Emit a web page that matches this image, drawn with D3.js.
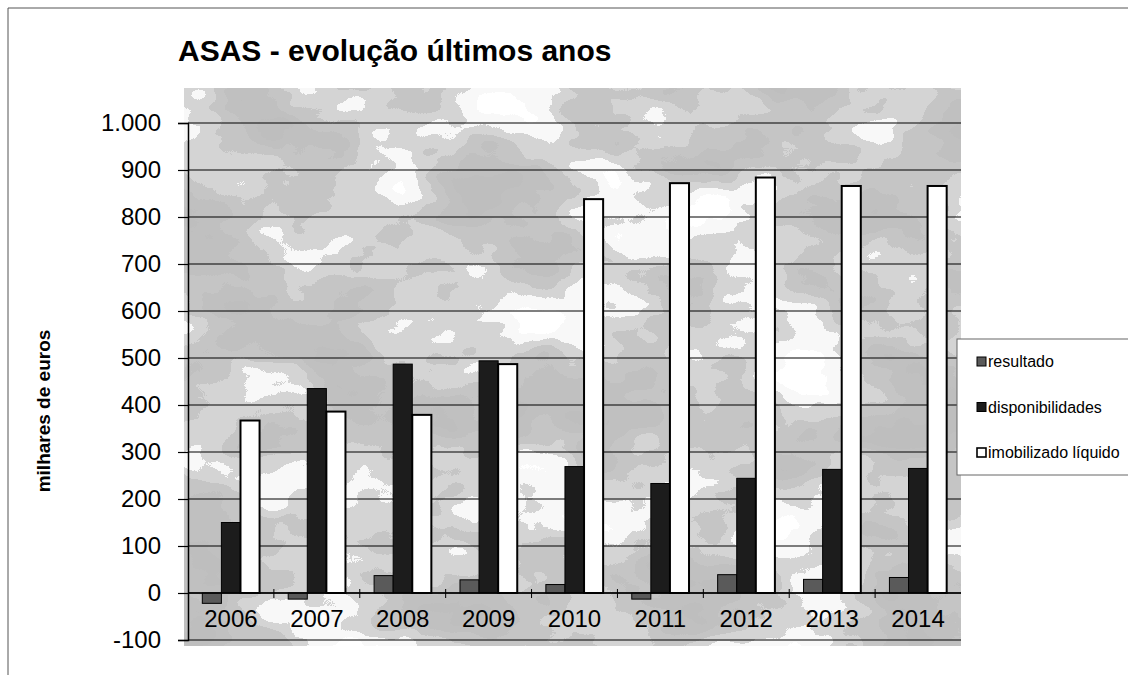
<!DOCTYPE html>
<html>
<head>
<meta charset="utf-8">
<script src="https://cdn.jsdelivr.net/npm/d3@7"></script>
<style>
  html, body { margin: 0; padding: 0; background: #fff; }
  svg { display: block; font-family: 'Liberation Sans', Arial, sans-serif; }
</style>
</head>
<body>
<svg id="chart" width="1128" height="675"></svg>
<script>
const years = ['2006', '2007', '2008', '2009', '2010', '2011', '2012', '2013', '2014'];
const seriesNames = ['resultado', 'disponibilidades', 'imobilizado líquido'];
const resultado = [-22, -13, 37, 28, 18, -13, 39, 29, 33];
const disponibilidades = [150, 435, 487, 494, 269, 233, 244, 263, 265];
const imobilizado = [367, 386, 379, 487, 838, 872, 884, 866, 866];
const yTicks = [-100, 0, 100, 200, 300, 400, 500, 600, 700, 800, 900, 1000];

const seriesValues = [resultado, disponibilidades, imobilizado];
const seriesFill = ['#5a5a5a', '#1c1c1c', '#ffffff'];
const seriesStroke = [1, 1, 2];

const svg = d3.select('#chart');

// plot box
const plotLeft = 188, plotRight = 961, plotTop = 123, plotBottom = 640;

const x0 = d3.scaleBand().domain(years).range([plotLeft, plotRight]).padding(0);
// excel gap width 150%
const x1 = d3.scaleBand().domain(seriesNames).range([0, x0.bandwidth()])
  .paddingInner(0).paddingOuter(0.75);
const y = d3.scaleLinear().domain([-100, 1000]).range([plotBottom, plotTop]);

// portuguese number format: 1.000 and plain hyphen for negatives
const fmt = d => d3.format(',')(d).replace(',', '.').replace('\u2212', '-');

// cloudy scan texture behind the plot
const defs = svg.append('defs');
const filter = defs.append('filter').attr('id', 'clouds')
  .attr('x', 0).attr('y', 0).attr('width', 1).attr('height', 1);
filter.append('feTurbulence')
  .attr('type', 'fractalNoise')
  .attr('baseFrequency', '0.007 0.011')
  .attr('numOctaves', 4)
  .attr('seed', 7);
filter.append('feColorMatrix')
  .attr('type', 'matrix')
  .attr('values', '1 0 0 0 0  1 0 0 0 0  1 0 0 0 0  0 0 0 0 1');
const ct = filter.append('feComponentTransfer');
['feFuncR', 'feFuncG', 'feFuncB'].forEach(f => {
  ct.append(f).attr('type', 'discrete')
    .attr('tableValues', '0.52 0.52 0.52 0.53 0.56 0.66 0.94 1 1 1');
});

svg.append('rect')
  .attr('x', plotLeft - 4).attr('y', 88)
  .attr('width', plotRight - plotLeft + 4).attr('height', plotBottom - 88 + 6)
  .attr('filter', 'url(#clouds)');

// chart area border (scan edge)
svg.append('path')
  .attr('d', 'M8,675V8H1128')
  .attr('fill', 'none')
  .attr('stroke', '#555')
  .attr('stroke-width', 1);

// gridlines
svg.append('g')
  .selectAll('line')
  .data(yTicks)
  .join('line')
  .attr('x1', plotLeft).attr('x2', plotRight)
  .attr('y1', d => y(d)).attr('y2', d => y(d))
  .attr('stroke', '#000')
  .attr('stroke-width', 1.2);

// value axis
const yAxis = svg.append('g')
  .attr('transform', `translate(${plotLeft},0)`)
  .call(d3.axisLeft(y).tickValues(yTicks).tickSize(10).tickPadding(17)
    .tickFormat(fmt));
yAxis.select('.domain').attr('stroke', '#000').attr('stroke-width', 1.5);
yAxis.selectAll('.tick line').attr('stroke', '#000').attr('stroke-width', 1.2);
yAxis.selectAll('text')
  .attr('fill', '#000')
  .style('font-size', '24px')
  .style('font-family', "'Liberation Sans', Arial, sans-serif");

// bars
const groups = svg.append('g')
  .selectAll('g')
  .data(years)
  .join('g')
  .attr('transform', d => `translate(${x0(d)},0)`);

groups.selectAll('rect')
  .data((d, i) => seriesNames.map((s, k) => ({ key: s, k: k, value: seriesValues[k][i] })))
  .join('rect')
  .attr('x', d => x1(d.key))
  .attr('width', x1.bandwidth())
  .attr('y', d => y(Math.max(0, d.value)))
  .attr('height', d => Math.abs(y(d.value) - y(0)))
  .attr('fill', d => seriesFill[d.k])
  .attr('stroke', '#000')
  .attr('stroke-width', d => seriesStroke[d.k]);

// category axis at zero, ticks cross between groups
const xAxis = svg.append('g')
  .attr('transform', `translate(0,${y(0)})`);
xAxis.append('line')
  .attr('x1', plotLeft).attr('x2', plotRight)
  .attr('stroke', '#000').attr('stroke-width', 1.5);
xAxis.selectAll('.xtick')
  .data(years.slice(1))
  .join('line')
  .attr('class', 'xtick')
  .attr('x1', d => x0(d)).attr('x2', d => x0(d))
  .attr('y1', -4).attr('y2', 5)
  .attr('stroke', '#000');
xAxis.selectAll('text')
  .data(years)
  .join('text')
  .attr('x', d => x0(d) + x0.bandwidth() / 2)
  .attr('y', 34)
  .attr('text-anchor', 'middle')
  .style('font-size', '24px')
  .text(d => d);

// title
svg.append('text')
  .attr('x', 178).attr('y', 61)
  .style('font-size', '30px')
  .style('font-weight', 'bold')
  .text('ASAS - evolução últimos anos');

// y axis title
svg.append('text')
  .attr('transform', 'translate(50,411) rotate(-90)')
  .attr('text-anchor', 'middle')
  .style('font-size', '19px')
  .style('font-weight', 'bold')
  .text('milhares de euros');

// legend
const legend = svg.append('g').attr('transform', 'translate(957,339)');
legend.append('rect')
  .attr('width', 180).attr('height', 136)
  .attr('fill', '#fff')
  .attr('stroke', '#666')
  .attr('stroke-width', 1);
const item = legend.selectAll('.item')
  .data(seriesNames)
  .join('g')
  .attr('class', 'item')
  .attr('transform', (d, i) => `translate(20,${23 + i * 45.5})`);
item.append('rect')
  .attr('x', 0).attr('y', -5)
  .attr('width', 9).attr('height', 9)
  .attr('fill', (d, i) => seriesFill[i])
  .attr('stroke', '#000')
  .attr('stroke-width', (d, i) => i === 2 ? 1.6 : 1);
item.append('text')
  .attr('x', 11).attr('y', 5)
  .style('font-size', '16px')
  .text(d => d);
</script>
</body>
</html>
